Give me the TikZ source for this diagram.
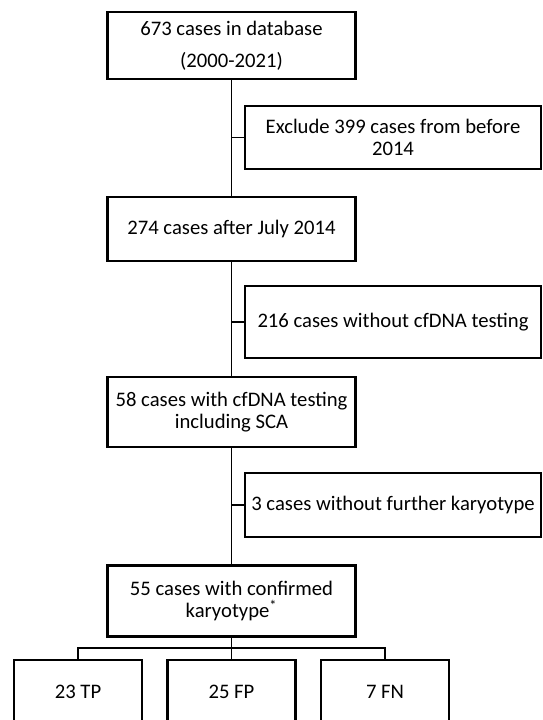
\documentclass[tikz,border=0pt]{standalone}
\usepackage{fontspec}
\setmainfont{Carlito}
\begin{document}
\begin{tikzpicture}[x=0.75pt,y=-0.75pt,
  box/.style={draw=black, line width=1.8pt, align=center, inner sep=0pt, text=black, font=\fontsize{15.5}{17}\selectfont},
  mainbox/.style={box, minimum width=186pt},
  sidebox/.style={box, minimum width=222pt},
  leafbox/.style={box, minimum width=96pt, minimum height=48pt},
  conn/.style={draw=black, line width=1.1pt}]
\useasboundingbox (0,0) rectangle (542,720);
\clip (0,0) rectangle (542,720);
\node[mainbox, minimum height=50.25pt, font=\fontsize{15.5}{24}\selectfont] (A) at (231.5,45.5) {673 cases in database\\(2000-2021)};
\node[sidebox, minimum height=47.25pt] (B) at (393,137.5) {Exclude 399 cases from before\\2014};
\node[mainbox, minimum height=48pt] (C) at (231.5,229) {274 cases after July 2014};
\node[sidebox, minimum height=54pt] (D) at (393,322) {216 cases without cfDNA testing};
\node[mainbox, minimum height=52.5pt] (E) at (231.5,412) {58 cases with cfDNA testing\\including SCA};
\node[sidebox, minimum height=48pt] (F) at (393,505) {3 cases without further karyotype};
\node[mainbox, minimum height=53.25pt] (G) at (231.5,601) {55 cases with confirmed\\karyotype\textsuperscript{*}};
\node[leafbox] (H1) at (78,692) {23 TP};
\node[leafbox] (H2) at (231.5,692) {25 FP};
\node[leafbox] (H3) at (385,692) {7 FN};
\draw[conn] (A.south) -- (C.north);
\draw[conn] (B.west) -- (B.west -| A.south);
\draw[conn] (C.south) -- (E.north);
\draw[conn] (D.west) -- (D.west -| C.south);
\draw[conn] (E.south) -- (G.north);
\draw[conn] (F.west) -- (F.west -| E.south);
\coordinate (T) at (231.5,648);
\draw[conn] (G.south) -- (T);
\draw[conn] (H1.north) |- (T) -| (H3.north);
\draw[conn] (T) -- (H2.north);
\end{tikzpicture}
\end{document}
